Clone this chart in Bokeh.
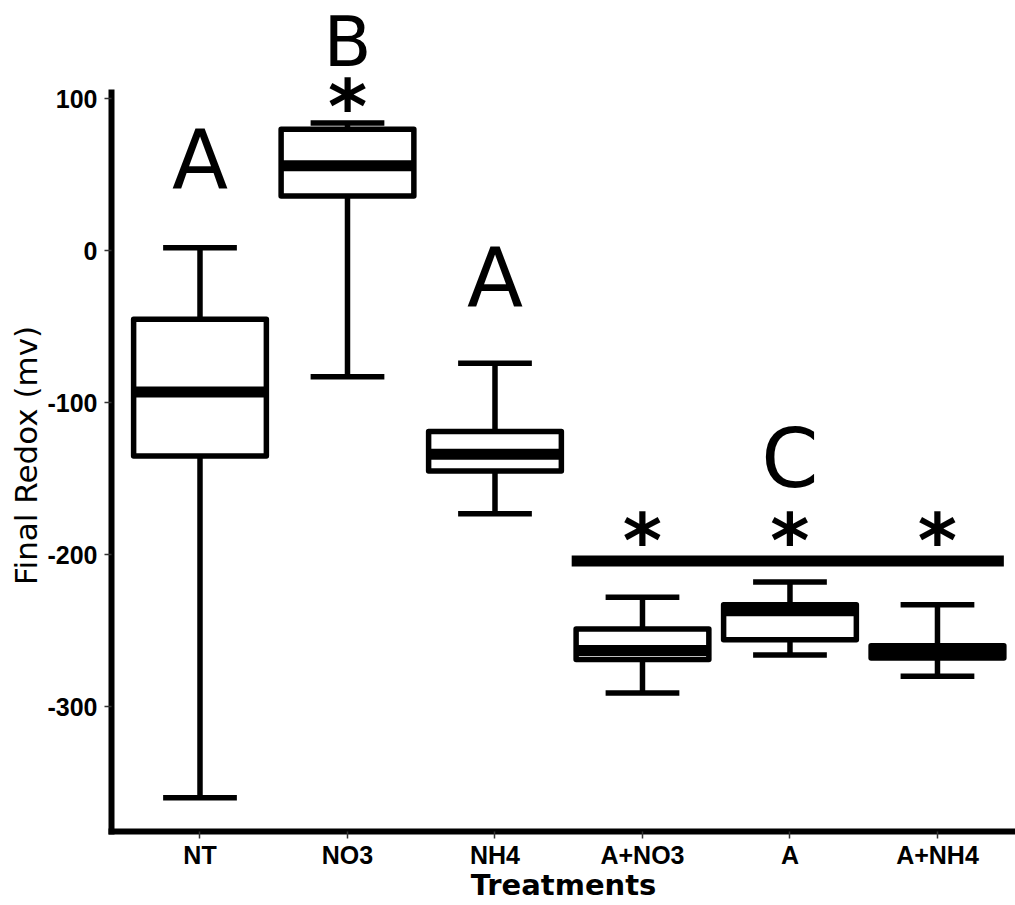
from bokeh.plotting import figure
from bokeh.models import FixedTicker, ColumnDataSource, PrintfTickFormatter
from bokeh.core.properties import value
from bokeh.embed import file_html
from bokeh.resources import INLINE

# ---- data ----
categories = ["NT", "NO3", "NH4", "A+NO3", "A", "A+NH4"]
upper = [2, 84, -74, -228, -218, -233]
q3 = [-45, 80, -119, -249, -233, -260]
median = [-93, 56, -134, -263, -237, -264]
q1 = [-135, 36, -145, -269, -256, -268]
lower = [-360, -83, -173, -291, -266, -280]

y_ticks = [-300, -200, -100, 0, 100]

letters = ["A", "B", "A", "C"]
letter_cat = [1, 2, 3, 5]
letter_y = [60.1, 137.2, -17.6, -136.8]
letter_size = ["82px", "70px", "82px", "82px"]

star_cat = [2, 4, 5, 6]
star_y = [94.9, -191.3, -191.3, -191.3]

sig_bar_x = [3.52, 6.45]
sig_bar_y = -204.2

pos = list(range(1, len(categories) + 1))
box_half = 0.45
cap_half = 0.25

p = figure(width=1015, height=905, x_range=(0.4, 6.529), y_range=(-382.2, 164.7),
           output_backend="svg", toolbar_location=None,
           min_border_left=111, min_border_right=0, min_border_top=0, min_border_bottom=74)
p.outline_line_color = None
p.xgrid.grid_line_color = None
p.ygrid.grid_line_color = None
p.background_fill_color = "white"
p.border_fill_color = "white"

# whiskers
p.segment(x0=pos, y0=q3, x1=pos, y1=upper, line_width=5.5, line_color="black")
p.segment(x0=pos, y0=q1, x1=pos, y1=lower, line_width=5.5, line_color="black")
p.segment(x0=[x - cap_half for x in pos], y0=upper, x1=[x + cap_half for x in pos], y1=upper,
          line_width=5.5, line_color="black")
p.segment(x0=[x - cap_half for x in pos], y0=lower, x1=[x + cap_half for x in pos], y1=lower,
          line_width=5.5, line_color="black")
# boxes
p.quad(left=[x - box_half for x in pos], right=[x + box_half for x in pos], top=q3, bottom=q1,
       fill_color="white", line_color="black", line_width=5.5, line_join="round")
# medians
p.segment(x0=[x - box_half for x in pos], y0=median, x1=[x + box_half for x in pos], y1=median,
          line_width=11, line_color="black", line_cap="butt")

# significance bar
p.segment(x0=[sig_bar_x[0]], y0=[sig_bar_y], x1=[sig_bar_x[1]], y1=[sig_bar_y],
          line_width=11, line_color="black", line_cap="butt")

# letters
src_l = ColumnDataSource(dict(x=letter_cat, y=letter_y, t=letters, s=letter_size))
p.text(x="x", y="y", text="t", source=src_l, text_font=value("DejaVu Sans"),
       text_font_size="s", text_align="center", text_baseline="alphabetic", text_color="black")
# asterisks
src_s = ColumnDataSource(dict(x=star_cat, y=star_y, t=["*"] * len(star_cat)))
p.text(x="x", y="y", text="t", source=src_s, text_font=value("DejaVu Sans"),
       text_font_style="bold", text_font_size=value("75px"), text_align="center",
       text_baseline="alphabetic", text_color="black")

# axes
p.xaxis.ticker = FixedTicker(ticks=pos)
p.xaxis.major_label_overrides = {i: c for i, c in zip(pos, categories)}
p.yaxis.ticker = FixedTicker(ticks=y_ticks)
p.yaxis.formatter = PrintfTickFormatter(format="%d")
p.yaxis.bounds = (-382.2, 104)

for ax in (p.xaxis[0], p.yaxis[0]):
    ax.axis_line_width = 6
    ax.axis_line_color = "black"
    ax.axis_line_cap = "square"
    ax.major_tick_line_width = 1.5
    ax.major_tick_line_color = "#333333"
    ax.major_tick_in = 0
    ax.major_tick_out = 7
    ax.minor_tick_line_color = None
    ax.major_label_text_font = "Liberation Sans"
    ax.major_label_text_font_style = "bold"
    ax.major_label_text_font_size = "25px"
    ax.major_label_text_color = "black"
    ax.axis_label_text_color = "black"
    ax.axis_label_text_font = "DejaVu Sans"

p.xaxis.major_label_standoff = 2
p.xaxis.axis_label = "Treatments"
p.xaxis.axis_label_text_font_style = "bold"
p.xaxis.axis_label_text_font_size = "29px"
p.xaxis.axis_label_standoff = -4

p.yaxis.major_label_standoff = 7
# trailing no-break spaces centre the title on the drawn axis line rather than the whole frame
p.yaxis.axis_label = "Final Redox (mv)" + "\u00a0" * 8
p.yaxis.axis_label_text_font_style = "normal"
p.yaxis.axis_label_text_font_size = "31px"
p.yaxis.axis_label_standoff = 0

open("out.html", "w").write(file_html(p, INLINE))
